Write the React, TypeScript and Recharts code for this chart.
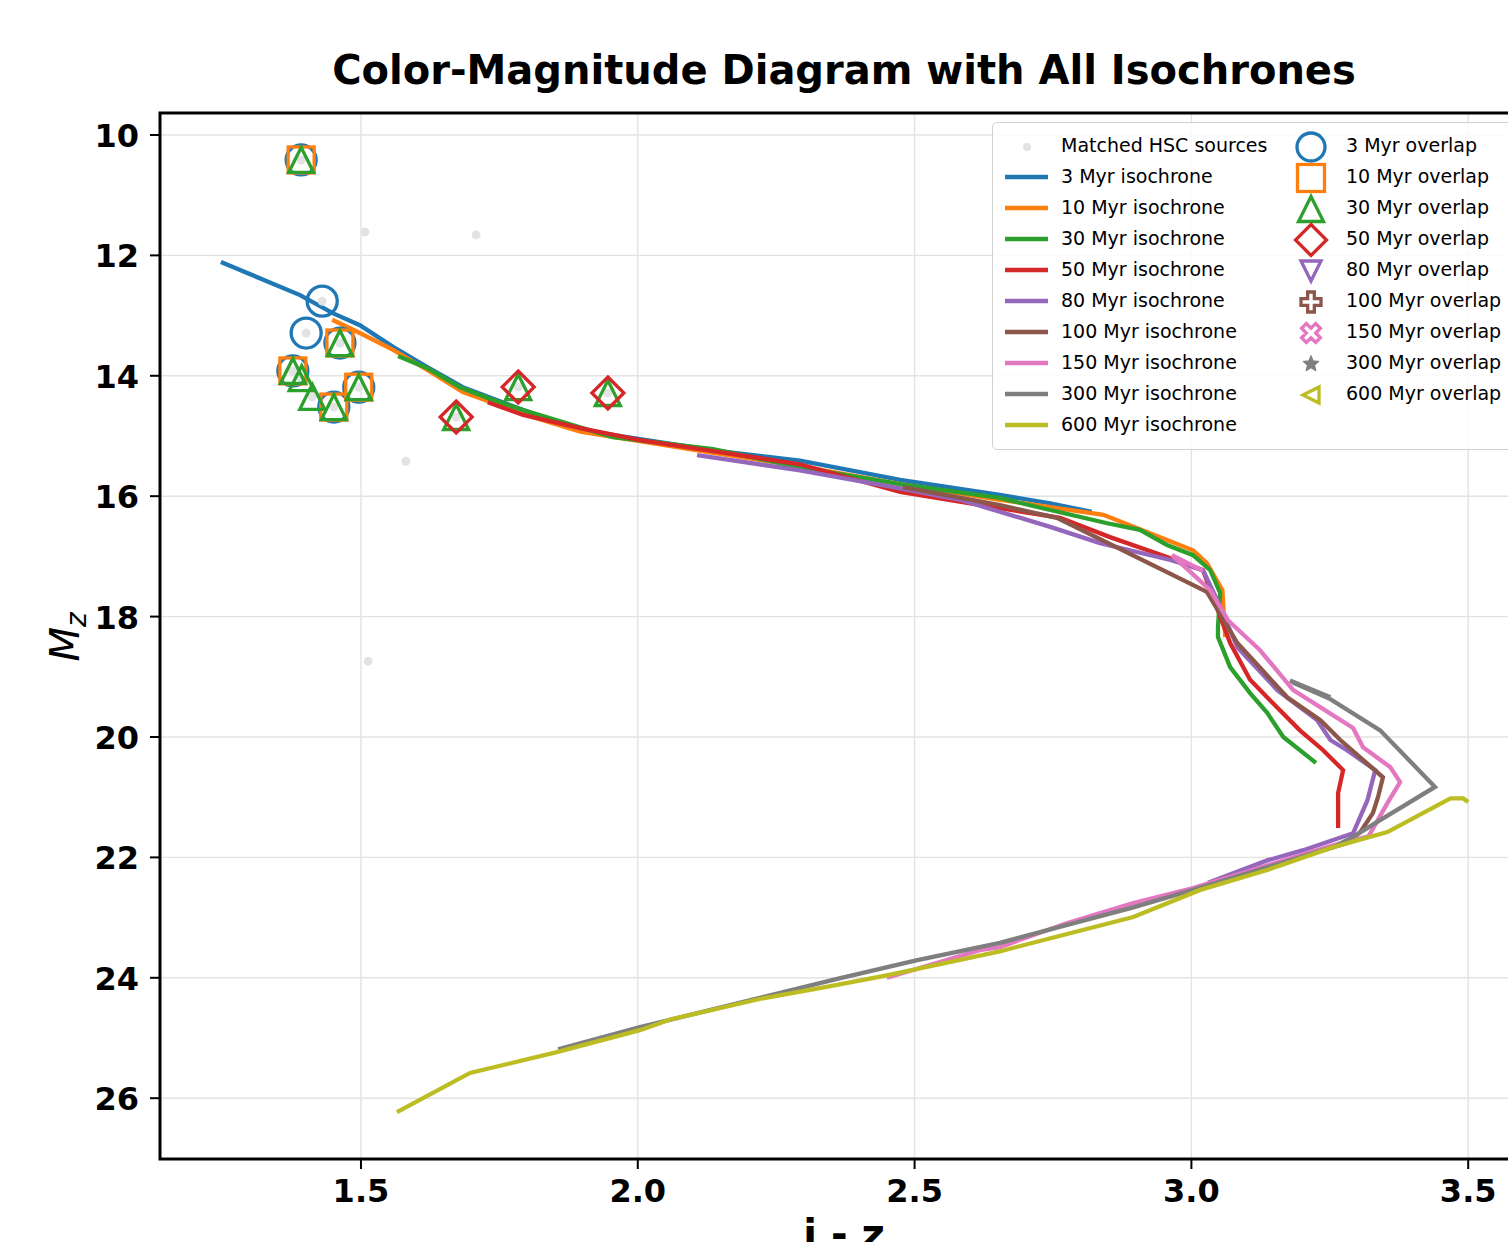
import React from 'react';
import { ComposedChart, Line, Scatter, XAxis, YAxis, CartesianGrid, ReferenceArea, Legend } from 'recharts';

// axis ranges (matplotlib view limits)
const X_MIN = 1.137;
const X_MAX = 3.608;
const Y_MIN = 9.635;
const Y_MAX = 27.01;
const xTicks = [1.5, 2.0, 2.5, 3.0, 3.5];
const yTicks = [10, 12, 14, 16, 18, 20, 22, 24, 26];

const ages = ['3', '10', '30', '50', '80', '100', '150', '300', '600'];
const colors = ['#1f77b4', '#ff7f0e', '#2ca02c', '#d62728', '#9467bd', '#8c564b', '#e377c2', '#7f7f7f', '#bcbd22'];
const markerKinds = ['circle', 'square', 'triUp', 'diamond', 'triDown', 'plus', 'cross', 'star', 'triLeft'];

// matched HSC sources (i-z, M_z)
const hscSources = [
  [1.392, 10.415], [1.43, 12.76], [1.401, 13.29], [1.462, 13.456], [1.377, 13.92],
  [1.393, 14.04], [1.412, 14.35], [1.451, 14.52], [1.496, 14.19], [1.672, 14.685],
  [1.784, 14.187], [1.946, 14.286], [1.507, 11.61], [1.708, 11.66], [1.581, 15.42], [1.513, 18.74],
];

// isochrones
const iso3 = [
  [1.247, 12.11], [1.39, 12.66], [1.449, 12.96], [1.498, 13.16], [1.558, 13.52], [1.619, 13.85],
  [1.684, 14.19], [1.793, 14.57], [1.896, 14.9], [2.136, 15.24], [2.293, 15.41], [2.474, 15.73],
  [2.654, 15.98], [2.745, 16.12], [2.82, 16.26],
];
const iso10 = [
  [1.448, 13.07], [1.498, 13.29], [1.558, 13.57], [1.619, 13.9], [1.684, 14.27], [1.805, 14.67],
  [1.896, 14.93], [2.136, 15.28], [2.293, 15.5], [2.474, 15.8], [2.654, 16.06], [2.745, 16.18],
  [2.841, 16.31], [2.907, 16.55], [3.003, 16.9], [3.028, 17.11], [3.056, 17.56], [3.061, 18.34],
];
const iso30 = [
  [1.567, 13.67], [1.619, 13.87], [1.679, 14.19], [1.738, 14.4], [1.793, 14.57], [1.955, 15.02],
  [2.136, 15.22], [2.293, 15.52], [2.474, 15.8], [2.654, 16.03], [2.745, 16.23], [2.848, 16.45],
  [2.907, 16.56], [2.956, 16.81], [3.003, 16.98], [3.034, 17.23], [3.052, 17.61], [3.048, 18.17],
  [3.048, 18.34], [3.07, 18.84], [3.106, 19.27], [3.137, 19.6], [3.166, 20.0], [3.225, 20.43],
];
const iso50 = [
  [1.729, 14.44], [1.793, 14.65], [1.896, 14.87], [2.004, 15.07], [2.136, 15.25], [2.293, 15.47],
  [2.474, 15.93], [2.654, 16.2], [2.763, 16.36], [2.853, 16.68], [2.956, 17.01], [3.021, 17.23],
  [3.039, 17.68], [3.07, 18.44], [3.106, 19.05], [3.142, 19.39], [3.196, 19.89], [3.238, 20.22],
  [3.274, 20.55], [3.265, 20.93], [3.265, 21.51],
];
const iso80 = [
  [2.107, 15.32], [2.293, 15.57], [2.474, 15.87], [2.582, 16.06], [2.745, 16.51], [2.835, 16.78],
  [2.962, 17.06], [3.021, 17.23], [3.047, 17.73], [3.083, 18.51], [3.155, 19.22], [3.227, 19.72],
  [3.251, 20.05], [3.281, 20.22], [3.332, 20.55], [3.318, 21.05], [3.292, 21.6], [3.202, 21.88],
  [3.137, 22.05], [3.03, 22.42],
];
const iso100 = [
  [2.479, 15.85], [2.654, 16.15], [2.757, 16.36], [3.028, 17.59], [3.083, 18.44], [3.173, 19.34],
  [3.233, 19.72], [3.269, 20.05], [3.346, 20.67], [3.337, 21.0], [3.328, 21.26], [3.305, 21.58],
  [3.281, 21.76], [3.256, 21.83], [3.05, 22.38],
];
const iso150 = [
  [3.021, 17.24], [2.965, 16.98], [3.034, 17.56], [3.066, 18.06], [3.124, 18.56], [3.184, 19.22],
  [3.292, 19.85], [3.31, 20.17], [3.359, 20.5], [3.377, 20.75], [3.354, 21.1], [3.32, 21.65],
  [3.256, 21.8], [3.003, 22.51], [2.895, 22.76], [2.776, 23.09], [2.654, 23.49], [2.618, 23.54],
  [2.45, 24.0],
];
const iso300 = [
  [3.178, 19.06], [3.251, 19.34], [3.182, 19.09], [3.251, 19.37], [3.341, 19.89], [3.44, 20.83],
  [3.341, 21.38], [3.292, 21.66], [3.256, 21.83], [3.003, 22.54], [2.895, 22.83], [2.654, 23.42],
  [2.503, 23.71], [2.364, 24.01], [2.226, 24.32], [2.004, 24.82], [1.856, 25.19],
];
const iso600 = [
  [3.5, 21.08], [3.491, 21.02], [3.468, 21.02], [3.354, 21.58], [3.256, 21.83], [3.137, 22.21],
  [3.016, 22.54], [2.895, 22.99], [2.654, 23.56], [2.45, 23.96], [2.336, 24.16], [2.226, 24.34],
  [2.06, 24.69], [2.004, 24.87], [1.852, 25.24], [1.697, 25.58], [1.565, 26.23],
];

// sources overlapping each isochrone
const overlap3 = [[1.392, 10.415], [1.43, 12.76], [1.401, 13.29], [1.462, 13.456], [1.377, 13.92], [1.451, 14.52], [1.496, 14.19]];
const overlap10 = [[1.392, 10.415], [1.462, 13.456], [1.377, 13.92], [1.451, 14.52], [1.496, 14.19]];
const overlap30 = [
  [1.392, 10.415], [1.462, 13.456], [1.377, 13.92], [1.393, 14.04], [1.412, 14.35], [1.451, 14.52],
  [1.496, 14.19], [1.672, 14.685], [1.784, 14.187], [1.946, 14.286],
];
const overlap50 = [[1.672, 14.685], [1.784, 14.187], [1.946, 14.286]];
const overlap80: number[][] = [];
const overlap100: number[][] = [];
const overlap150: number[][] = [];
const overlap300: number[][] = [];
const overlap600: number[][] = [];

const toPts = (arr: number[][]) => arr.map(([x, y]) => ({ x, y }));
const isochrones = [iso3, iso10, iso30, iso50, iso80, iso100, iso150, iso300, iso600];
const overlaps = [overlap3, overlap10, overlap30, overlap50, overlap80, overlap100, overlap150, overlap300, overlap600];

const FONT = '"DejaVu Sans", sans-serif';

function Glyph({ kind, cx, cy, color, size, sw = 3.3 }: any) {
  const s = size;
  const common = { fill: 'none', stroke: color, strokeWidth: sw, strokeLinejoin: 'miter' as const };
  const poly = (p: number[][]) => p.map(([a, b]) => `${cx + a},${cy + b}`).join(' ');
  if (kind === 'circle') return <circle cx={cx} cy={cy} r={s} {...common} />;
  if (kind === 'square') return <rect x={cx - s} y={cy - s} width={2 * s} height={2 * s} {...common} />;
  if (kind === 'triUp') return <polygon points={poly([[0, -s], [s, s], [-s, s]])} {...common} />;
  if (kind === 'triDown') return <polygon points={poly([[0, s], [s, -s], [-s, -s]])} {...common} />;
  if (kind === 'triLeft') return <polygon points={poly([[-s, 0], [s, -s], [s, s]])} {...common} />;
  if (kind === 'diamond') return <polygon points={poly([[0, -s], [s, 0], [0, s], [-s, 0]])} {...common} />;
  if (kind === 'plus' || kind === 'cross') {
    const a = s / 3;
    let p = [[-a, -s], [a, -s], [a, -a], [s, -a], [s, a], [a, a], [a, s], [-a, s], [-a, a], [-s, a], [-s, -a], [-a, -a]];
    if (kind === 'cross') {
      const c = Math.SQRT1_2;
      p = p.map(([x, y]) => [(x - y) * c, (x + y) * c]);
    }
    return <polygon points={poly(p)} {...common} />;
  }
  if (kind === 'star') {
    const p: number[][] = [];
    for (let i = 0; i < 10; i++) {
      const r = i % 2 === 0 ? s : s * 0.45;
      const ang = -Math.PI / 2 + (i * Math.PI) / 5;
      p.push([r * Math.cos(ang), r * Math.sin(ang)]);
    }
    return <polygon points={poly(p)} fill={color} stroke={color} strokeWidth={1} />;
  }
  return null;
}

const plotSizes = [15, 13, 12.5, 16, 11, 10, 10, 9, 8];
const legendSizes = [14, 13.5, 12.5, 15.5, 10, 10, 10, 8.5, 8];

function XTick({ x, y, payload }: any) {
  return (
    <text x={x} y={y} dy={33} textAnchor="middle" fontFamily={FONT} fontWeight="bold" fontSize={32} fill="#000">
      {Number(payload.value).toFixed(1)}
    </text>
  );
}

function YTick({ x, y, payload }: any) {
  return (
    <text x={x - 11} y={y} dy={12} textAnchor="end" fontFamily={FONT} fontWeight="bold" fontSize={32} fill="#000">
      {payload.value}
    </text>
  );
}

function XTitle(props: any) {
  const vb = props.viewBox || { x: 160, y: 1159, width: 1368, height: 83 };
  return (
    <text x={vb.x + vb.width / 2} y={vb.y + 89} textAnchor="middle" fontFamily={FONT} fontWeight="bold" fontSize={40} fill="#000">
      i - z
    </text>
  );
}

function YTitle(props: any) {
  const vb = props.viewBox || { x: 0, y: 113, width: 160, height: 1046 };
  const cx = vb.x + 79;
  const cy = vb.y + vb.height / 2 + 1;
  return (
    <text transform={`translate(${cx},${cy}) rotate(-90)`} textAnchor="middle" fontFamily={FONT} fontStyle="italic" fontSize={40} fill="#000">
      M<tspan fontSize={28} dy={7}>z</tspan>
    </text>
  );
}

function LegendBox() {
  const rowY = (i: number) => 24 + 31 * i;
  const left = [
    { label: 'Matched HSC sources', kind: 'dot', color: '#e3e3e3' },
    ...ages.map((a, i) => ({ label: `${a} Myr isochrone`, kind: 'line', color: colors[i] })),
  ];
  return (
    <div
      style={{
        position: 'relative', width: 560, height: 328, boxSizing: 'border-box',
        border: '1.5px solid #d0d0d0', borderRadius: 5, background: 'rgba(255,255,255,0.85)',
        fontFamily: FONT, fontSize: 19, color: '#000',
      }}
    >
      <svg width={560} height={328} style={{ position: 'absolute', left: -1.5, top: -1.5 }}>
        {left.map((it, i) =>
          it.kind === 'dot' ? (
            <circle key={i} cx={35} cy={rowY(i) + 1} r={4} fill={it.color} />
          ) : (
            <line key={i} x1={13} x2={56} y1={rowY(i)} y2={rowY(i)} stroke={it.color} strokeWidth={4.3} />
          )
        )}
        {ages.map((a, i) => (
          <Glyph key={a} kind={markerKinds[i]} cx={319} cy={rowY(i) + 1} color={colors[i]} size={legendSizes[i]} />
        ))}
      </svg>
      {left.map((it, i) => (
        <div key={it.label} style={{ position: 'absolute', left: 68, top: rowY(i) - 15.5 - 1.5, lineHeight: '31px', whiteSpace: 'nowrap' }}>
          {it.label}
        </div>
      ))}
      {ages.map((a, i) => (
        <div key={a} style={{ position: 'absolute', left: 353, top: rowY(i) - 15.5 - 1.5, lineHeight: '31px', whiteSpace: 'nowrap' }}>
          {`${a} Myr overlap`}
        </div>
      ))}
    </div>
  );
}

export default function App() {
  return (
    <div style={{ position: 'absolute', left: 0, top: 0, width: 1508, height: 1242, overflow: 'hidden', background: '#fff' }}>
      <div
        style={{
          position: 'absolute', left: 0, top: 50, width: 1688, textAlign: 'center',
          fontFamily: FONT, fontWeight: 'bold', fontSize: 40, lineHeight: '40px', whiteSpace: 'nowrap', color: '#000',
        }}
      >
        Color-Magnitude Diagram with All Isochrones
      </div>
      <div style={{ position: 'absolute', left: 0, top: 0 }}>
        <ComposedChart width={1560} height={1242} margin={{ top: 113, right: 32, bottom: 0, left: 0 }}>
          <CartesianGrid stroke="#e3e3e3" strokeWidth={1.4} />
          <XAxis
            type="number" dataKey="x" domain={[X_MIN, X_MAX]} ticks={xTicks} allowDataOverflow
            height={83} tickSize={10} tickMargin={0} axisLine={false}
            tickLine={{ stroke: '#000', strokeWidth: 2 }} tick={<XTick />} label={XTitle}
          />
          <YAxis
            type="number" dataKey="y" domain={[Y_MIN, Y_MAX]} ticks={yTicks} reversed allowDataOverflow
            width={160} tickSize={10} tickMargin={0} axisLine={false}
            tickLine={{ stroke: '#000', strokeWidth: 2 }} tick={<YTick />} label={YTitle}
          />
          <Scatter
            name="Matched HSC sources" data={toPts(hscSources)} isAnimationActive={false}
            shape={(p: any) => <circle cx={p.cx} cy={p.cy} r={4.5} fill="#e3e3e3" />}
          />
          {isochrones.map((iso, i) => (
            <Line
              key={`iso${ages[i]}`} name={`${ages[i]} Myr isochrone`} data={toPts(iso)} dataKey="y"
              type="linear" stroke={colors[i]} strokeWidth={4.3} dot={false} activeDot={false}
              isAnimationActive={false}
            />
          ))}
          {overlaps.map((ov, i) => (
            <Scatter
              key={`ov${ages[i]}`} name={`${ages[i]} Myr overlap`} data={toPts(ov)} isAnimationActive={false}
              shape={(p: any) => <Glyph kind={markerKinds[i]} cx={p.cx} cy={p.cy} color={colors[i]} size={plotSizes[i]} />}
            />
          ))}
          <ReferenceArea x1={X_MIN} x2={X_MAX} y1={Y_MIN} y2={Y_MAX} fill="none" stroke="#000" strokeWidth={3} ifOverflow="extendDomain" />
          <Legend
            layout="vertical" align="center" verticalAlign="middle" content={<LegendBox />}
            wrapperStyle={{ left: 992, top: 122, width: 560, height: 328 }}
          />
        </ComposedChart>
      </div>
    </div>
  );
}
